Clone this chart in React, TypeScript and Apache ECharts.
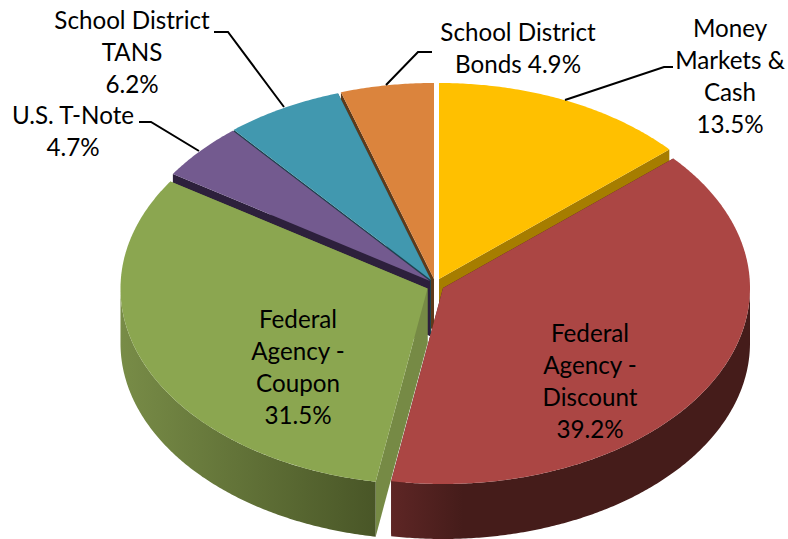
import React, { useEffect, useRef } from "react";
import * as echarts from "echarts";

const categories = [
  "Money Markets & Cash",
  "Federal Agency - Discount",
  "Federal Agency - Coupon",
  "U.S. T-Note",
  "School District TANS",
  "School District Bonds",
];
const shareValues = [13.5, 39.2, 31.5, 4.7, 6.2, 4.9];
const labelLines = [
  ["Money", "Markets &", "Cash", "13.5%"],
  ["Federal", "Agency -", "Discount", "39.2%"],
  ["Federal", "Agency -", "Coupon", "31.5%"],
  ["U.S. T-Note", "4.7%"],
  ["School District", "TANS", "6.2%"],
  ["School District", "Bonds 4.9%"],
];

// Drawing style, kept apart from the data
const PIE = { cx: 434, cy: 283, rx: 307, ry: 196, depth: 55 };
const sliceStyle = [
  { dx: 5, dy: -4, paint: 3, top: "#FFC000", cut: "#A67D00", wall: ["#A67D00", "#A67D00"] },
  { dx: 9, dy: 5, paint: 5, top: "#AB4644", cut: "#451C1A", wall: ["#5E2625", "#451C1A"] },
  { dx: -6.5, dy: 5.5, paint: 4, top: "#8BA650", cut: "#768A45", wall: ["#788C47", "#495627"] },
  { dx: -4, dy: -2, paint: 2, top: "#735A8F", cut: "#2D203C", wall: ["#2D203C", "#2D203C"] },
  { dx: -3, dy: -3, paint: 1, top: "#4198AF", cut: "#1D4450", wall: ["#1D4450", "#1D4450"] },
  { dx: 0, dy: -4, paint: 0, top: "#DB843D", cut: "#5E3A1A", wall: ["#5E3A1A", "#5E3A1A"] },
];
const labelPlacement = [
  { x: 730, y: 27 },
  { x: 590, y: 332 },
  { x: 298, y: 318 },
  { x: 73, y: 114 },
  { x: 132, y: 19 },
  { x: 518, y: 31 },
];
const leaderLines = [
  [[565, 100], [664, 67], [673, 67]],
  [[199, 151], [151, 122], [139, 122]],
  [[284, 107], [228, 32], [214, 32]],
  [[386, 85], [418, 52], [432, 52]],
];
const LINE_HEIGHT = 32.3;
const FONT_SIZE = 24.2;
const FONT = "Lato, 'Noto Sans', sans-serif";

const toRad = (deg: number) => (deg * Math.PI) / 180;

function arcPoints(ax: number, ay: number, from: number, to: number) {
  const pts: number[][] = [];
  const steps = Math.max(2, Math.ceil((to - from) * 2));
  for (let k = 0; k <= steps; k++) {
    const a = toRad(from + ((to - from) * k) / steps);
    pts.push([ax + PIE.rx * Math.sin(a), ay - PIE.ry * Math.cos(a)]);
  }
  return pts;
}

function renderSlice(params: any, api: any) {
  const i = params.dataIndex;
  const total = shareValues.reduce((s, v) => s + v, 0);
  const before = shareValues.slice(0, i).reduce((s, v) => s + v, 0);
  const from = (before / total) * 360;
  const to = from + (Number(api.value(0)) / total) * 360;
  const st = sliceStyle[i];
  const ax = PIE.cx + st.dx;
  const ay = PIE.cy + st.dy;
  const base = st.paint * 10;
  const children: any[] = [];

  // radial cut face at the slice's starting edge
  const s0 = arcPoints(ax, ay, from, from + 0.001)[0];
  children.push({
    type: "polygon",
    z2: base + 1,
    shape: { points: [[ax, ay], s0, [s0[0], s0[1] + PIE.depth], [ax, ay + PIE.depth]] },
    style: { fill: st.cut },
    silent: true,
  });
  // radial cut face at the slice's ending edge
  const e0 = arcPoints(ax, ay, to, to + 0.001)[0];
  children.push({
    type: "polygon",
    z2: base + 1,
    shape: { points: [[ax, ay], e0, [e0[0], e0[1] + PIE.depth], [ax, ay + PIE.depth]] },
    style: { fill: st.cut },
    silent: true,
  });

  // outer wall, only the part that faces the viewer
  const wFrom = Math.max(from, 90);
  const wTo = Math.min(to, 270);
  if (wTo > wFrom) {
    const upper = arcPoints(ax, ay, wFrom, wTo);
    const lower = upper.map((p) => [p[0], p[1] + PIE.depth]).reverse();
    const leftFirst = i === 2; // runs right to left along the front of the pie
    children.push({
      type: "polygon",
      z2: base + 2,
      shape: { points: upper.concat(lower) },
      style: {
        fill: {
          type: "linear",
          x: 0,
          y: 0,
          x2: 1,
          y2: 0,
          colorStops: leftFirst
            ? [
                { offset: 0, color: st.wall[0] },
                { offset: 1, color: st.wall[1] },
              ]
            : [
                { offset: 0, color: st.wall[0] },
                { offset: 0.2, color: st.wall[1] },
                { offset: 1, color: st.wall[1] },
              ],
        },
      },
      silent: true,
    });
  }

  // top face
  children.push({
    type: "polygon",
    z2: base + 3,
    shape: { points: [[ax, ay]].concat(arcPoints(ax, ay, from, to)) },
    style: { fill: st.top },
    silent: true,
  });

  return { type: "group", children };
}

const textGraphics = labelLines.flatMap((lines, i) =>
  lines.map((line, j) => ({
    type: "text",
    z: 10,
    x: labelPlacement[i].x,
    y: labelPlacement[i].y + j * LINE_HEIGHT,
    silent: true,
    style: {
      text: line,
      fill: "#000000",
      font: `${FONT_SIZE}px ${FONT}`,
      align: "center",
      verticalAlign: "middle",
    },
  }))
);

const leaderGraphics = leaderLines.map((points) => ({
  type: "polyline",
  z: 9,
  silent: true,
  shape: { points },
  style: { stroke: "#000000", lineWidth: 2, fill: "none" },
}));

export default function App() {
  const ref = useRef<HTMLDivElement>(null);
  useEffect(() => {
    const chart = echarts.init(ref.current!, undefined, { renderer: "svg" });
    chart.setOption({
      animation: false,
      backgroundColor: "#ffffff",
      series: [
        {
          type: "custom",
          name: "Portfolio",
          coordinateSystem: "none",
          silent: true,
          renderItem: renderSlice,
          data: shareValues.map((value, i) => ({ name: categories[i], value: [value] })),
        },
      ],
      graphic: { elements: [...leaderGraphics, ...textGraphics] },
    });
    return () => chart.dispose();
  }, []);
  return (
    <div
      ref={ref}
      style={{ position: "absolute", left: 0, top: 0, width: 788, height: 539, overflow: "hidden" }}
    />
  );
}
